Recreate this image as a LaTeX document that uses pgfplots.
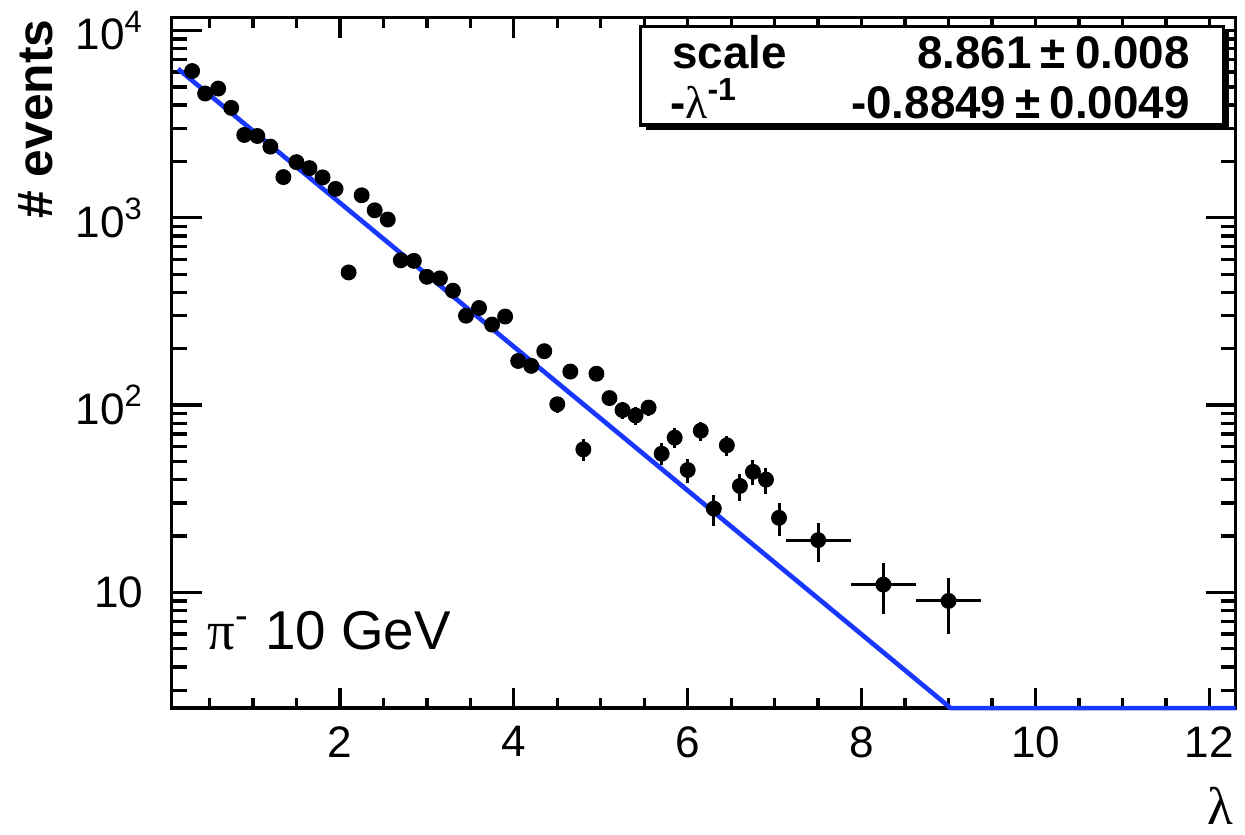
\documentclass[border=0pt]{standalone}
\usepackage{fontspec}
\setmainfont{Liberation Sans}
\newfontfamily\grk{Liberation Serif}
\usepackage{pgfplots}
\pgfplotsset{compat=1.18}
\definecolor{fitblue}{RGB}{25,55,255}

% bin centre, entries, bin half width, sqrt(entries)
\pgfplotstableread{
x     y     ex     ey
0.30  6075  0.075  78
0.45  4610  0.075  68
0.60  4900  0.075  70
0.75  3865  0.075  62
0.90  2770  0.075  53
1.05  2735  0.075  52
1.20  2400  0.075  49
1.35  1650  0.075  41
1.50  1983  0.075  45
1.65  1842  0.075  43
1.80  1644  0.075  41
1.95  1427  0.075  38
2.10  511   0.075  23
2.25  1319  0.075  36
2.40  1097  0.075  33
2.55  979   0.075  31
2.70  593   0.075  24
2.85  589   0.075  24
3.00  484   0.075  22
3.15  475   0.075  22
3.30  408   0.075  20
3.45  300   0.075  17
3.60  330   0.075  18
3.75  269   0.075  16
3.90  297   0.075  17
4.05  172   0.075  13
4.20  162   0.075  13
4.35  194   0.075  14
4.50  101   0.075  10
4.65  151   0.075  12
4.80  58    0.075  7.6
4.95  147   0.075  12
5.10  109   0.075  10.4
5.25  94    0.075  9.7
5.40  88    0.075  9.4
5.55  97    0.075  9.8
5.70  55    0.075  7.4
5.85  67    0.075  8.2
6.00  45    0.075  6.7
6.15  73    0.075  8.5
6.30  28    0.075  5.3
6.45  61    0.075  7.8
6.60  37    0.075  6.1
6.75  44    0.075  6.6
6.90  40    0.075  6.3
7.05  25    0.075  5.0
7.50  19    0.375  4.4
8.25  11    0.375  3.3
9.00  9     0.375  3.0
}\events

\begin{document}
\begin{tikzpicture}
\begin{axis}[
  scale only axis,
  width=320.8pt, height=208.2pt,
  xmin=0.066, xmax=12.30,
  ymode=log, ymin=2.41, ymax=11710,
  clip=false,
  axis line style={line width=1pt},
  tick style={line width=1pt, black},
  tick align=inside,
  xtick={2,4,6,8,10,12},
  xticklabels={2,4,6,8,10,12},
  minor xtick={0.5,1,...,12},
  ytick={10,100,1000,10000},
  yticklabels={10,10\textsuperscript{2},10\textsuperscript{3},10\textsuperscript{4}},
  minor ytick={3,4,...,9,20,30,...,90,200,300,...,900,2000,3000,...,9000},
  x tick style={/pgfplots/major tick length=6pt,/pgfplots/minor tick length=3pt},
  y tick style={/pgfplots/major tick length=9pt,/pgfplots/minor tick length=4.5pt},
  tick label style={font=\fontsize{13.3}{13.3}\selectfont},
  xticklabel style={yshift=-2pt},
  yticklabel style={xshift=-5pt},
]
\addplot[only marks, mark=*, mark size=2.2pt, black,
  error bars/.cd, x dir=both, x explicit, y dir=both, y explicit,
  error mark=none, error bar style={line width=0.9pt, black}]
  table[x=x, y=y, x error=ex, y error=ey] {\events};
\addplot[fitblue, line width=1.4pt, line join=round] coordinates {
  (0.138,6243) (9.024,2.41) (12.30,2.41)
};
\end{axis}

% fit result box with shadow
\fill[black] (142.9pt,174.3pt) rectangle (318.7pt,204.0pt);
\draw[line width=1pt, fill=white] (141.4pt,175.8pt) rectangle (317.2pt,205.5pt);
\node[anchor=base west, inner sep=0, font=\bfseries\fontsize{13.8}{13.8}\selectfont] at (150.7pt,192.8pt) {scale};
\node[anchor=base west, inner sep=0, font=\bfseries\fontsize{13.8}{13.8}\selectfont] at (150.1pt,177.9pt) {-{\grk\mdseries λ}\textsuperscript{-1}};
\node[anchor=base east, inner sep=0, font=\bfseries\fontsize{13.8}{13.8}\selectfont] at (307.2pt,192.8pt) {8.861\hspace{0.2em}±\hspace{0.2em}0.008};
\node[anchor=base east, inner sep=0, font=\bfseries\fontsize{13.8}{13.8}\selectfont] at (307.2pt,177.9pt) {-0.8849\hspace{0.2em}±\hspace{0.2em}0.0049};

% particle label
\node[anchor=base west, inner sep=0, font=\fontsize{16.5}{16.5}\selectfont] at (10.7pt,17.6pt) {{\grk π}\textsuperscript{-} 10 GeV};

% axis titles
\node[rotate=90, anchor=east, inner sep=0, font=\bfseries\fontsize{15}{15}\selectfont] at (-40.9pt,207.9pt) {\# events};
\node[anchor=base east, inner sep=0, font=\grk\fontsize{16}{16}\selectfont] at (320.2pt,-35.2pt) {λ};

\path (-51.8pt,-38.1pt) rectangle (321.7pt,211.8pt);
\end{tikzpicture}
\end{document}
